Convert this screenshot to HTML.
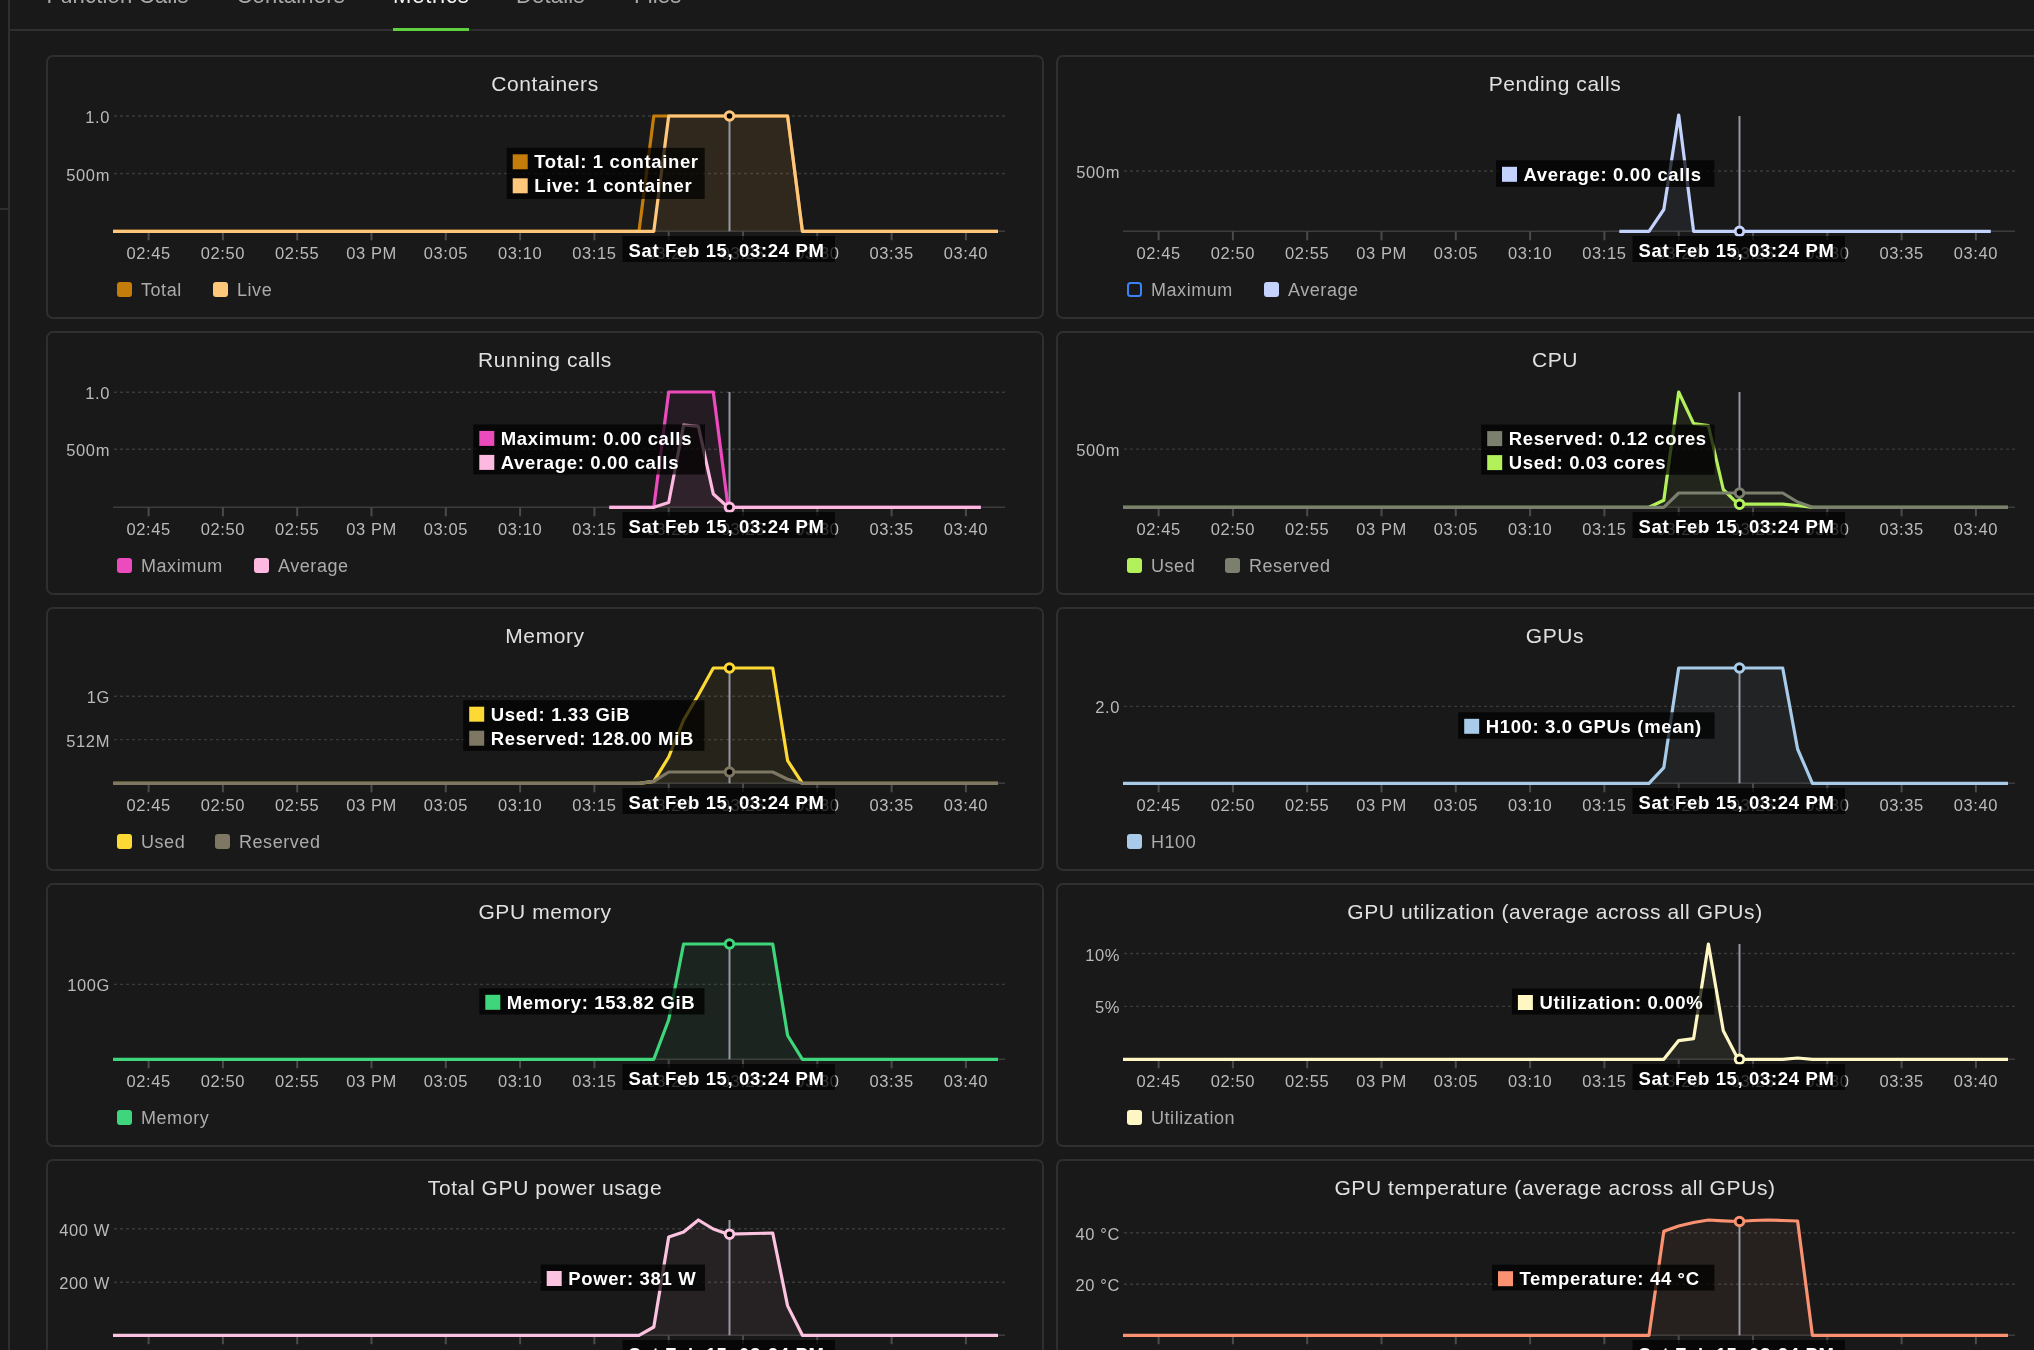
<!DOCTYPE html>
<html><head><meta charset="utf-8"><title>Metrics</title>
<style>
html,body{margin:0;padding:0;background:#191919;width:2034px;height:1350px;overflow:hidden;}
body{position:relative;font-family:"Liberation Sans", sans-serif;}
.card{position:absolute;box-sizing:border-box;width:998px;height:264px;border:2px solid #2f2f2f;border-radius:7px;background:#191919;}
svg{position:absolute;left:0;top:0;will-change:transform;}
svg text{font-family:"Liberation Sans", sans-serif;}
.title{font-size:21px;fill:#e0e0e0;letter-spacing:0.6px;}
.ylab{font-size:16.5px;fill:#bababa;letter-spacing:0.6px;}
.xlab{font-size:16.5px;fill:#bababa;letter-spacing:0.6px;}
.leg{font-size:18px;fill:#ababab;letter-spacing:0.55px;}
.tt{font-size:18.5px;font-weight:bold;fill:#fff;letter-spacing:0.65px;}
.grid{stroke:#3a3a3a;stroke-width:1.4;stroke-dasharray:3 3;}
.axis{stroke:#3c3c3c;stroke-width:1.4;}
.tick{stroke:#4a4a4a;stroke-width:2;}
.cross{stroke:#9597a3;stroke-width:2;}
.tab{font-size:22px;fill:#a9a9a9;letter-spacing:0.2px;}
</style></head><body>
<div style="position:absolute;left:0;top:0;width:8px;height:1350px;background:#171717"></div>
<div style="position:absolute;left:8px;top:0;width:2px;height:1350px;background:#2f2f2f"></div>
<div style="position:absolute;left:0;top:208px;width:8px;height:2px;background:#2f2f2f"></div>
<div style="position:absolute;left:10px;top:29px;width:2024px;height:2px;background:#2f2f2f"></div>
<div style="position:absolute;left:393px;top:28px;width:76px;height:3px;background:#5fd13f"></div>
<div class="card" style="left:46px;top:55px"></div>
<div class="card" style="left:1056px;top:55px"></div>
<div class="card" style="left:46px;top:331px"></div>
<div class="card" style="left:1056px;top:331px"></div>
<div class="card" style="left:46px;top:607px"></div>
<div class="card" style="left:1056px;top:607px"></div>
<div class="card" style="left:46px;top:883px"></div>
<div class="card" style="left:1056px;top:883px"></div>
<div class="card" style="left:46px;top:1159px"></div>
<div class="card" style="left:1056px;top:1159px"></div>
<svg width="2034" height="1350" viewBox="0 0 2034 1350">
<text x="46.5" y="3" class="tab">Function Calls</text>
<text x="236.5" y="3" class="tab">Containers</text>
<text x="393" y="3" class="tab" style="fill:#f2f2f2;letter-spacing:0.8px">Metrics</text>
<text x="516" y="3" class="tab">Details</text>
<text x="634" y="3" class="tab">Files</text>
<g transform="translate(46,55)">
<text x="499" y="36" class="title" text-anchor="middle">Containers</text>
<line x1="68" x2="959" y1="61" y2="61" class="grid"/>
<text x="64" y="68" class="ylab" text-anchor="end">1.0</text>
<line x1="68" x2="959" y1="118.5" y2="118.5" class="grid"/>
<text x="64" y="125.5" class="ylab" text-anchor="end">500m</text>
<line x1="67" x2="959" y1="176.3" y2="176.3" class="axis"/>
<line x1="102.6" x2="102.6" y1="176.3" y2="185.3" class="tick"/>
<text x="102.6" y="204" class="xlab" text-anchor="middle">02:45</text>
<line x1="176.9" x2="176.9" y1="176.3" y2="185.3" class="tick"/>
<text x="176.9" y="204" class="xlab" text-anchor="middle">02:50</text>
<line x1="251.2" x2="251.2" y1="176.3" y2="185.3" class="tick"/>
<text x="251.2" y="204" class="xlab" text-anchor="middle">02:55</text>
<line x1="325.5" x2="325.5" y1="176.3" y2="185.3" class="tick"/>
<text x="325.5" y="204" class="xlab" text-anchor="middle">03 PM</text>
<line x1="399.8" x2="399.8" y1="176.3" y2="185.3" class="tick"/>
<text x="399.8" y="204" class="xlab" text-anchor="middle">03:05</text>
<line x1="474.1" x2="474.1" y1="176.3" y2="185.3" class="tick"/>
<text x="474.1" y="204" class="xlab" text-anchor="middle">03:10</text>
<line x1="548.4" x2="548.4" y1="176.3" y2="185.3" class="tick"/>
<text x="548.4" y="204" class="xlab" text-anchor="middle">03:15</text>
<line x1="622.7" x2="622.7" y1="176.3" y2="185.3" class="tick"/>
<text x="622.7" y="204" class="xlab" text-anchor="middle">03:20</text>
<line x1="697.0" x2="697.0" y1="176.3" y2="185.3" class="tick"/>
<text x="697.0" y="204" class="xlab" text-anchor="middle">03:25</text>
<line x1="771.3" x2="771.3" y1="176.3" y2="185.3" class="tick"/>
<text x="771.3" y="204" class="xlab" text-anchor="middle">03:30</text>
<line x1="845.6" x2="845.6" y1="176.3" y2="185.3" class="tick"/>
<text x="845.6" y="204" class="xlab" text-anchor="middle">03:35</text>
<line x1="919.9" x2="919.9" y1="176.3" y2="185.3" class="tick"/>
<text x="919.9" y="204" class="xlab" text-anchor="middle">03:40</text>
<polygon points="67.0,176.3 67.0,176.3 593.0,176.3 607.8,61.0 741.6,61.0 756.4,176.3 952.0,176.3 952.0,176.3" fill="#c47c0b" fill-opacity="0.06" stroke="none"/>
<polygon points="67.0,176.3 67.0,176.3 607.8,176.3 622.7,61.0 741.6,61.0 756.4,176.3 952.0,176.3 952.0,176.3" fill="#fec77c" fill-opacity="0.06" stroke="none"/>
<line x1="683.5" x2="683.5" y1="61.0" y2="176.3" class="cross"/>
<polyline points="67.0,176.3 593.0,176.3 607.8,61.0 741.6,61.0 756.4,176.3 952.0,176.3" fill="none" stroke="#c47c0b" stroke-width="3.2" stroke-linejoin="round" stroke-linecap="butt"/>
<polyline points="67.0,176.3 607.8,176.3 622.7,61.0 741.6,61.0 756.4,176.3 952.0,176.3" fill="none" stroke="#fec77c" stroke-width="3.2" stroke-linejoin="round" stroke-linecap="butt"/>
<circle cx="683.5" cy="61.0" r="4.3" fill="#000" stroke="#fec77c" stroke-width="3"/>
<rect x="460.7" y="92.80000000000001" width="198" height="51.2" fill="#000" fill-opacity="0.72"/>
<rect x="466.7" y="99.30000000000001" width="15" height="15" fill="#c47c0b"/>
<text x="488.2" y="113.30000000000001" class="tt">Total: 1 container</text>
<rect x="466.7" y="123.30000000000001" width="15" height="15" fill="#fec77c"/>
<text x="488.2" y="137.3" class="tt">Live: 1 container</text>
<rect x="576.5" y="181" width="212.5" height="26" fill="#000" fill-opacity="0.72"/>
<text x="582.5" y="201.5" class="tt">Sat Feb 15, 03:24 PM</text>
<rect x="71" y="227" width="15" height="15" rx="3" fill="#c47c0b"/>
<text x="95" y="241" class="leg">Total</text>
<rect x="167" y="227" width="15" height="15" rx="3" fill="#fec77c"/>
<text x="191" y="241" class="leg">Live</text>
</g>
<g transform="translate(1056,55)">
<text x="499" y="36" class="title" text-anchor="middle">Pending calls</text>
<line x1="68" x2="959" y1="116" y2="116" class="grid"/>
<text x="64" y="123" class="ylab" text-anchor="end">500m</text>
<line x1="67" x2="959" y1="176.3" y2="176.3" class="axis"/>
<line x1="102.6" x2="102.6" y1="176.3" y2="185.3" class="tick"/>
<text x="102.6" y="204" class="xlab" text-anchor="middle">02:45</text>
<line x1="176.9" x2="176.9" y1="176.3" y2="185.3" class="tick"/>
<text x="176.9" y="204" class="xlab" text-anchor="middle">02:50</text>
<line x1="251.2" x2="251.2" y1="176.3" y2="185.3" class="tick"/>
<text x="251.2" y="204" class="xlab" text-anchor="middle">02:55</text>
<line x1="325.5" x2="325.5" y1="176.3" y2="185.3" class="tick"/>
<text x="325.5" y="204" class="xlab" text-anchor="middle">03 PM</text>
<line x1="399.8" x2="399.8" y1="176.3" y2="185.3" class="tick"/>
<text x="399.8" y="204" class="xlab" text-anchor="middle">03:05</text>
<line x1="474.1" x2="474.1" y1="176.3" y2="185.3" class="tick"/>
<text x="474.1" y="204" class="xlab" text-anchor="middle">03:10</text>
<line x1="548.4" x2="548.4" y1="176.3" y2="185.3" class="tick"/>
<text x="548.4" y="204" class="xlab" text-anchor="middle">03:15</text>
<line x1="622.7" x2="622.7" y1="176.3" y2="185.3" class="tick"/>
<text x="622.7" y="204" class="xlab" text-anchor="middle">03:20</text>
<line x1="697.0" x2="697.0" y1="176.3" y2="185.3" class="tick"/>
<text x="697.0" y="204" class="xlab" text-anchor="middle">03:25</text>
<line x1="771.3" x2="771.3" y1="176.3" y2="185.3" class="tick"/>
<text x="771.3" y="204" class="xlab" text-anchor="middle">03:30</text>
<line x1="845.6" x2="845.6" y1="176.3" y2="185.3" class="tick"/>
<text x="845.6" y="204" class="xlab" text-anchor="middle">03:35</text>
<line x1="919.9" x2="919.9" y1="176.3" y2="185.3" class="tick"/>
<text x="919.9" y="204" class="xlab" text-anchor="middle">03:40</text>
<polygon points="563.3,176.3 563.3,176.3 593.0,176.3 607.8,154.5 622.7,60.0 637.6,176.3 934.8,176.3 934.8,176.3" fill="#c3d3fe" fill-opacity="0.06" stroke="none"/>
<line x1="683.5" x2="683.5" y1="61.0" y2="176.3" class="cross"/>
<polyline points="563.3,176.3 593.0,176.3 607.8,154.5 622.7,60.0 637.6,176.3 934.8,176.3" fill="none" stroke="#c3d3fe" stroke-width="3.2" stroke-linejoin="round" stroke-linecap="butt"/>
<circle cx="683.5" cy="176.3" r="4.3" fill="#000" stroke="#c3d3fe" stroke-width="3"/>
<rect x="440" y="105.30000000000001" width="218.5" height="26.7" fill="#000" fill-opacity="0.72"/>
<rect x="446" y="111.80000000000001" width="15" height="15" fill="#c3d3fe"/>
<text x="467.5" y="125.80000000000001" class="tt">Average: 0.00 calls</text>
<rect x="576.5" y="181" width="212.5" height="26" fill="#000" fill-opacity="0.72"/>
<text x="582.5" y="201.5" class="tt">Sat Feb 15, 03:24 PM</text>
<rect x="72" y="228" width="13" height="13" rx="2.5" fill="none" stroke="#3b82f6" stroke-width="2"/>
<text x="95" y="241" class="leg">Maximum</text>
<rect x="208" y="227" width="15" height="15" rx="3" fill="#c3d3fe"/>
<text x="232" y="241" class="leg">Average</text>
</g>
<g transform="translate(46,331)">
<text x="499" y="36" class="title" text-anchor="middle">Running calls</text>
<line x1="68" x2="959" y1="61.3" y2="61.3" class="grid"/>
<text x="64" y="68.3" class="ylab" text-anchor="end">1.0</text>
<line x1="68" x2="959" y1="118.3" y2="118.3" class="grid"/>
<text x="64" y="125.3" class="ylab" text-anchor="end">500m</text>
<line x1="67" x2="959" y1="176.3" y2="176.3" class="axis"/>
<line x1="102.6" x2="102.6" y1="176.3" y2="185.3" class="tick"/>
<text x="102.6" y="204" class="xlab" text-anchor="middle">02:45</text>
<line x1="176.9" x2="176.9" y1="176.3" y2="185.3" class="tick"/>
<text x="176.9" y="204" class="xlab" text-anchor="middle">02:50</text>
<line x1="251.2" x2="251.2" y1="176.3" y2="185.3" class="tick"/>
<text x="251.2" y="204" class="xlab" text-anchor="middle">02:55</text>
<line x1="325.5" x2="325.5" y1="176.3" y2="185.3" class="tick"/>
<text x="325.5" y="204" class="xlab" text-anchor="middle">03 PM</text>
<line x1="399.8" x2="399.8" y1="176.3" y2="185.3" class="tick"/>
<text x="399.8" y="204" class="xlab" text-anchor="middle">03:05</text>
<line x1="474.1" x2="474.1" y1="176.3" y2="185.3" class="tick"/>
<text x="474.1" y="204" class="xlab" text-anchor="middle">03:10</text>
<line x1="548.4" x2="548.4" y1="176.3" y2="185.3" class="tick"/>
<text x="548.4" y="204" class="xlab" text-anchor="middle">03:15</text>
<line x1="622.7" x2="622.7" y1="176.3" y2="185.3" class="tick"/>
<text x="622.7" y="204" class="xlab" text-anchor="middle">03:20</text>
<line x1="697.0" x2="697.0" y1="176.3" y2="185.3" class="tick"/>
<text x="697.0" y="204" class="xlab" text-anchor="middle">03:25</text>
<line x1="771.3" x2="771.3" y1="176.3" y2="185.3" class="tick"/>
<text x="771.3" y="204" class="xlab" text-anchor="middle">03:30</text>
<line x1="845.6" x2="845.6" y1="176.3" y2="185.3" class="tick"/>
<text x="845.6" y="204" class="xlab" text-anchor="middle">03:35</text>
<line x1="919.9" x2="919.9" y1="176.3" y2="185.3" class="tick"/>
<text x="919.9" y="204" class="xlab" text-anchor="middle">03:40</text>
<polygon points="563.3,176.3 563.3,176.3 607.8,176.3 622.7,61.0 667.3,61.0 682.1,176.3 934.8,176.3 934.8,176.3" fill="#ec4bbd" fill-opacity="0.06" stroke="none"/>
<polygon points="563.3,176.3 563.3,176.3 607.8,176.3 622.7,171.5 637.6,94.0 652.4,95.3 667.3,163.0 682.1,176.3 934.8,176.3 934.8,176.3" fill="#fdb9e0" fill-opacity="0.05" stroke="none"/>
<line x1="683.5" x2="683.5" y1="61.0" y2="176.3" class="cross"/>
<polyline points="563.3,176.3 607.8,176.3 622.7,61.0 667.3,61.0 682.1,176.3 934.8,176.3" fill="none" stroke="#ec4bbd" stroke-width="3.2" stroke-linejoin="round" stroke-linecap="butt"/>
<polyline points="563.3,176.3 607.8,176.3 622.7,171.5 637.6,94.0 652.4,95.3 667.3,163.0 682.1,176.3 934.8,176.3" fill="none" stroke="#fdb9e0" stroke-width="3.2" stroke-linejoin="round" stroke-linecap="butt"/>
<circle cx="683.5" cy="176.3" r="4.3" fill="#000" stroke="#fdb9e0" stroke-width="3"/>
<rect x="427.3" y="93.39999999999998" width="231.7" height="50.1" fill="#000" fill-opacity="0.72"/>
<rect x="433.3" y="99.89999999999998" width="15" height="15" fill="#ec4bbd"/>
<text x="454.8" y="113.89999999999998" class="tt">Maximum: 0.00 calls</text>
<rect x="433.3" y="123.89999999999998" width="15" height="15" fill="#fdb9e0"/>
<text x="454.8" y="137.89999999999998" class="tt">Average: 0.00 calls</text>
<rect x="576.5" y="181" width="212.5" height="26" fill="#000" fill-opacity="0.72"/>
<text x="582.5" y="201.5" class="tt">Sat Feb 15, 03:24 PM</text>
<rect x="71" y="227" width="15" height="15" rx="3" fill="#ec4bbd"/>
<text x="95" y="241" class="leg">Maximum</text>
<rect x="208" y="227" width="15" height="15" rx="3" fill="#fdb9e0"/>
<text x="232" y="241" class="leg">Average</text>
</g>
<g transform="translate(1056,331)">
<text x="499" y="36" class="title" text-anchor="middle">CPU</text>
<line x1="68" x2="959" y1="118.1" y2="118.1" class="grid"/>
<text x="64" y="125.1" class="ylab" text-anchor="end">500m</text>
<line x1="67" x2="959" y1="176.3" y2="176.3" class="axis"/>
<line x1="102.6" x2="102.6" y1="176.3" y2="185.3" class="tick"/>
<text x="102.6" y="204" class="xlab" text-anchor="middle">02:45</text>
<line x1="176.9" x2="176.9" y1="176.3" y2="185.3" class="tick"/>
<text x="176.9" y="204" class="xlab" text-anchor="middle">02:50</text>
<line x1="251.2" x2="251.2" y1="176.3" y2="185.3" class="tick"/>
<text x="251.2" y="204" class="xlab" text-anchor="middle">02:55</text>
<line x1="325.5" x2="325.5" y1="176.3" y2="185.3" class="tick"/>
<text x="325.5" y="204" class="xlab" text-anchor="middle">03 PM</text>
<line x1="399.8" x2="399.8" y1="176.3" y2="185.3" class="tick"/>
<text x="399.8" y="204" class="xlab" text-anchor="middle">03:05</text>
<line x1="474.1" x2="474.1" y1="176.3" y2="185.3" class="tick"/>
<text x="474.1" y="204" class="xlab" text-anchor="middle">03:10</text>
<line x1="548.4" x2="548.4" y1="176.3" y2="185.3" class="tick"/>
<text x="548.4" y="204" class="xlab" text-anchor="middle">03:15</text>
<line x1="622.7" x2="622.7" y1="176.3" y2="185.3" class="tick"/>
<text x="622.7" y="204" class="xlab" text-anchor="middle">03:20</text>
<line x1="697.0" x2="697.0" y1="176.3" y2="185.3" class="tick"/>
<text x="697.0" y="204" class="xlab" text-anchor="middle">03:25</text>
<line x1="771.3" x2="771.3" y1="176.3" y2="185.3" class="tick"/>
<text x="771.3" y="204" class="xlab" text-anchor="middle">03:30</text>
<line x1="845.6" x2="845.6" y1="176.3" y2="185.3" class="tick"/>
<text x="845.6" y="204" class="xlab" text-anchor="middle">03:35</text>
<line x1="919.9" x2="919.9" y1="176.3" y2="185.3" class="tick"/>
<text x="919.9" y="204" class="xlab" text-anchor="middle">03:40</text>
<polygon points="67.0,176.3 67.0,176.3 593.0,176.3 607.8,169.3 622.7,61.0 637.6,92.6 652.4,94.5 667.3,158.5 682.1,173.2 726.7,173.2 741.6,174.5 756.4,176.3 952.0,176.3 952.0,176.3" fill="#b3f15b" fill-opacity="0.06" stroke="none"/>
<polygon points="67.0,176.3 67.0,176.3 607.8,176.3 622.7,162.0 726.7,162.0 741.6,171.0 756.4,176.3 952.0,176.3 952.0,176.3" fill="#7b7f6d" fill-opacity="0.06" stroke="none"/>
<line x1="683.5" x2="683.5" y1="61.0" y2="176.3" class="cross"/>
<polyline points="67.0,176.3 593.0,176.3 607.8,169.3 622.7,61.0 637.6,92.6 652.4,94.5 667.3,158.5 682.1,173.2 726.7,173.2 741.6,174.5 756.4,176.3 952.0,176.3" fill="none" stroke="#b3f15b" stroke-width="3.2" stroke-linejoin="round" stroke-linecap="butt"/>
<polyline points="67.0,176.3 607.8,176.3 622.7,162.0 726.7,162.0 741.6,171.0 756.4,176.3 952.0,176.3" fill="none" stroke="#7b7f6d" stroke-width="3.2" stroke-linejoin="round" stroke-linecap="butt"/>
<circle cx="683.5" cy="162" r="4.3" fill="#000" stroke="#7b7f6d" stroke-width="3"/>
<circle cx="683.5" cy="173.2" r="4.3" fill="#000" stroke="#b3f15b" stroke-width="3"/>
<rect x="425.20000000000005" y="93.60000000000002" width="233.5" height="50.1" fill="#000" fill-opacity="0.72"/>
<rect x="431.20000000000005" y="100.10000000000002" width="15" height="15" fill="#7b7f6d"/>
<text x="452.70000000000005" y="114.10000000000002" class="tt">Reserved: 0.12 cores</text>
<rect x="431.20000000000005" y="124.10000000000002" width="15" height="15" fill="#b3f15b"/>
<text x="452.70000000000005" y="138.10000000000002" class="tt">Used: 0.03 cores</text>
<rect x="576.5" y="181" width="212.5" height="26" fill="#000" fill-opacity="0.72"/>
<text x="582.5" y="201.5" class="tt">Sat Feb 15, 03:24 PM</text>
<rect x="71" y="227" width="15" height="15" rx="3" fill="#b3f15b"/>
<text x="95" y="241" class="leg">Used</text>
<rect x="169" y="227" width="15" height="15" rx="3" fill="#7b7f6d"/>
<text x="193" y="241" class="leg">Reserved</text>
</g>
<g transform="translate(46,607)">
<text x="499" y="36" class="title" text-anchor="middle">Memory</text>
<line x1="68" x2="959" y1="89.3" y2="89.3" class="grid"/>
<text x="64" y="96.3" class="ylab" text-anchor="end">1G</text>
<line x1="68" x2="959" y1="132.6" y2="132.6" class="grid"/>
<text x="64" y="139.6" class="ylab" text-anchor="end">512M</text>
<line x1="67" x2="959" y1="176.3" y2="176.3" class="axis"/>
<line x1="102.6" x2="102.6" y1="176.3" y2="185.3" class="tick"/>
<text x="102.6" y="204" class="xlab" text-anchor="middle">02:45</text>
<line x1="176.9" x2="176.9" y1="176.3" y2="185.3" class="tick"/>
<text x="176.9" y="204" class="xlab" text-anchor="middle">02:50</text>
<line x1="251.2" x2="251.2" y1="176.3" y2="185.3" class="tick"/>
<text x="251.2" y="204" class="xlab" text-anchor="middle">02:55</text>
<line x1="325.5" x2="325.5" y1="176.3" y2="185.3" class="tick"/>
<text x="325.5" y="204" class="xlab" text-anchor="middle">03 PM</text>
<line x1="399.8" x2="399.8" y1="176.3" y2="185.3" class="tick"/>
<text x="399.8" y="204" class="xlab" text-anchor="middle">03:05</text>
<line x1="474.1" x2="474.1" y1="176.3" y2="185.3" class="tick"/>
<text x="474.1" y="204" class="xlab" text-anchor="middle">03:10</text>
<line x1="548.4" x2="548.4" y1="176.3" y2="185.3" class="tick"/>
<text x="548.4" y="204" class="xlab" text-anchor="middle">03:15</text>
<line x1="622.7" x2="622.7" y1="176.3" y2="185.3" class="tick"/>
<text x="622.7" y="204" class="xlab" text-anchor="middle">03:20</text>
<line x1="697.0" x2="697.0" y1="176.3" y2="185.3" class="tick"/>
<text x="697.0" y="204" class="xlab" text-anchor="middle">03:25</text>
<line x1="771.3" x2="771.3" y1="176.3" y2="185.3" class="tick"/>
<text x="771.3" y="204" class="xlab" text-anchor="middle">03:30</text>
<line x1="845.6" x2="845.6" y1="176.3" y2="185.3" class="tick"/>
<text x="845.6" y="204" class="xlab" text-anchor="middle">03:35</text>
<line x1="919.9" x2="919.9" y1="176.3" y2="185.3" class="tick"/>
<text x="919.9" y="204" class="xlab" text-anchor="middle">03:40</text>
<polygon points="67.0,176.3 67.0,176.3 593.0,176.3 607.8,174.3 622.7,150.0 637.6,113.0 652.4,88.0 667.3,61.0 726.7,61.0 741.6,153.6 756.4,176.3 952.0,176.3 952.0,176.3" fill="#fdd936" fill-opacity="0.06" stroke="none"/>
<polygon points="67.0,176.3 67.0,176.3 593.0,176.3 607.8,174.3 622.7,165.0 726.7,165.0 741.6,172.3 756.4,176.3 952.0,176.3 952.0,176.3" fill="#7d7763" fill-opacity="0.06" stroke="none"/>
<line x1="683.5" x2="683.5" y1="61.0" y2="176.3" class="cross"/>
<polyline points="67.0,176.3 593.0,176.3 607.8,174.3 622.7,150.0 637.6,113.0 652.4,88.0 667.3,61.0 726.7,61.0 741.6,153.6 756.4,176.3 952.0,176.3" fill="none" stroke="#fdd936" stroke-width="3.2" stroke-linejoin="round" stroke-linecap="butt"/>
<polyline points="67.0,176.3 593.0,176.3 607.8,174.3 622.7,165.0 726.7,165.0 741.6,172.3 756.4,176.3 952.0,176.3" fill="none" stroke="#7d7763" stroke-width="3.2" stroke-linejoin="round" stroke-linecap="butt"/>
<circle cx="683.5" cy="61.0" r="4.3" fill="#000" stroke="#fdd936" stroke-width="3"/>
<circle cx="683.5" cy="165" r="4.3" fill="#000" stroke="#7d7763" stroke-width="3"/>
<rect x="417.2" y="93.20000000000005" width="241.3" height="50.6" fill="#000" fill-opacity="0.72"/>
<rect x="423.2" y="99.70000000000005" width="15" height="15" fill="#fdd936"/>
<text x="444.7" y="113.70000000000005" class="tt">Used: 1.33 GiB</text>
<rect x="423.2" y="123.70000000000005" width="15" height="15" fill="#7d7763"/>
<text x="444.7" y="137.70000000000005" class="tt">Reserved: 128.00 MiB</text>
<rect x="576.5" y="181" width="212.5" height="26" fill="#000" fill-opacity="0.72"/>
<text x="582.5" y="201.5" class="tt">Sat Feb 15, 03:24 PM</text>
<rect x="71" y="227" width="15" height="15" rx="3" fill="#fdd936"/>
<text x="95" y="241" class="leg">Used</text>
<rect x="169" y="227" width="15" height="15" rx="3" fill="#7d7763"/>
<text x="193" y="241" class="leg">Reserved</text>
</g>
<g transform="translate(1056,607)">
<text x="499" y="36" class="title" text-anchor="middle">GPUs</text>
<line x1="68" x2="959" y1="99.4" y2="99.4" class="grid"/>
<text x="64" y="106.4" class="ylab" text-anchor="end">2.0</text>
<line x1="67" x2="959" y1="176.3" y2="176.3" class="axis"/>
<line x1="102.6" x2="102.6" y1="176.3" y2="185.3" class="tick"/>
<text x="102.6" y="204" class="xlab" text-anchor="middle">02:45</text>
<line x1="176.9" x2="176.9" y1="176.3" y2="185.3" class="tick"/>
<text x="176.9" y="204" class="xlab" text-anchor="middle">02:50</text>
<line x1="251.2" x2="251.2" y1="176.3" y2="185.3" class="tick"/>
<text x="251.2" y="204" class="xlab" text-anchor="middle">02:55</text>
<line x1="325.5" x2="325.5" y1="176.3" y2="185.3" class="tick"/>
<text x="325.5" y="204" class="xlab" text-anchor="middle">03 PM</text>
<line x1="399.8" x2="399.8" y1="176.3" y2="185.3" class="tick"/>
<text x="399.8" y="204" class="xlab" text-anchor="middle">03:05</text>
<line x1="474.1" x2="474.1" y1="176.3" y2="185.3" class="tick"/>
<text x="474.1" y="204" class="xlab" text-anchor="middle">03:10</text>
<line x1="548.4" x2="548.4" y1="176.3" y2="185.3" class="tick"/>
<text x="548.4" y="204" class="xlab" text-anchor="middle">03:15</text>
<line x1="622.7" x2="622.7" y1="176.3" y2="185.3" class="tick"/>
<text x="622.7" y="204" class="xlab" text-anchor="middle">03:20</text>
<line x1="697.0" x2="697.0" y1="176.3" y2="185.3" class="tick"/>
<text x="697.0" y="204" class="xlab" text-anchor="middle">03:25</text>
<line x1="771.3" x2="771.3" y1="176.3" y2="185.3" class="tick"/>
<text x="771.3" y="204" class="xlab" text-anchor="middle">03:30</text>
<line x1="845.6" x2="845.6" y1="176.3" y2="185.3" class="tick"/>
<text x="845.6" y="204" class="xlab" text-anchor="middle">03:35</text>
<line x1="919.9" x2="919.9" y1="176.3" y2="185.3" class="tick"/>
<text x="919.9" y="204" class="xlab" text-anchor="middle">03:40</text>
<polygon points="67.0,176.3 67.0,176.3 593.0,176.3 607.8,160.6 622.7,61.0 726.7,61.0 741.6,142.0 756.4,176.3 952.0,176.3 952.0,176.3" fill="#a7cbe8" fill-opacity="0.06" stroke="none"/>
<line x1="683.5" x2="683.5" y1="61.0" y2="176.3" class="cross"/>
<polyline points="67.0,176.3 593.0,176.3 607.8,160.6 622.7,61.0 726.7,61.0 741.6,142.0 756.4,176.3 952.0,176.3" fill="none" stroke="#a7cbe8" stroke-width="3.2" stroke-linejoin="round" stroke-linecap="butt"/>
<circle cx="683.5" cy="61.0" r="4.3" fill="#000" stroke="#a7cbe8" stroke-width="3"/>
<rect x="402.20000000000005" y="105.29999999999995" width="256.4" height="26.4" fill="#000" fill-opacity="0.72"/>
<rect x="408.20000000000005" y="111.79999999999995" width="15" height="15" fill="#a7cbe8"/>
<text x="429.70000000000005" y="125.79999999999995" class="tt">H100: 3.0 GPUs (mean)</text>
<rect x="576.5" y="181" width="212.5" height="26" fill="#000" fill-opacity="0.72"/>
<text x="582.5" y="201.5" class="tt">Sat Feb 15, 03:24 PM</text>
<rect x="71" y="227" width="15" height="15" rx="3" fill="#a7cbe8"/>
<text x="95" y="241" class="leg">H100</text>
</g>
<g transform="translate(46,883)">
<text x="499" y="36" class="title" text-anchor="middle">GPU memory</text>
<line x1="68" x2="959" y1="101.4" y2="101.4" class="grid"/>
<text x="64" y="108.4" class="ylab" text-anchor="end">100G</text>
<line x1="67" x2="959" y1="176.3" y2="176.3" class="axis"/>
<line x1="102.6" x2="102.6" y1="176.3" y2="185.3" class="tick"/>
<text x="102.6" y="204" class="xlab" text-anchor="middle">02:45</text>
<line x1="176.9" x2="176.9" y1="176.3" y2="185.3" class="tick"/>
<text x="176.9" y="204" class="xlab" text-anchor="middle">02:50</text>
<line x1="251.2" x2="251.2" y1="176.3" y2="185.3" class="tick"/>
<text x="251.2" y="204" class="xlab" text-anchor="middle">02:55</text>
<line x1="325.5" x2="325.5" y1="176.3" y2="185.3" class="tick"/>
<text x="325.5" y="204" class="xlab" text-anchor="middle">03 PM</text>
<line x1="399.8" x2="399.8" y1="176.3" y2="185.3" class="tick"/>
<text x="399.8" y="204" class="xlab" text-anchor="middle">03:05</text>
<line x1="474.1" x2="474.1" y1="176.3" y2="185.3" class="tick"/>
<text x="474.1" y="204" class="xlab" text-anchor="middle">03:10</text>
<line x1="548.4" x2="548.4" y1="176.3" y2="185.3" class="tick"/>
<text x="548.4" y="204" class="xlab" text-anchor="middle">03:15</text>
<line x1="622.7" x2="622.7" y1="176.3" y2="185.3" class="tick"/>
<text x="622.7" y="204" class="xlab" text-anchor="middle">03:20</text>
<line x1="697.0" x2="697.0" y1="176.3" y2="185.3" class="tick"/>
<text x="697.0" y="204" class="xlab" text-anchor="middle">03:25</text>
<line x1="771.3" x2="771.3" y1="176.3" y2="185.3" class="tick"/>
<text x="771.3" y="204" class="xlab" text-anchor="middle">03:30</text>
<line x1="845.6" x2="845.6" y1="176.3" y2="185.3" class="tick"/>
<text x="845.6" y="204" class="xlab" text-anchor="middle">03:35</text>
<line x1="919.9" x2="919.9" y1="176.3" y2="185.3" class="tick"/>
<text x="919.9" y="204" class="xlab" text-anchor="middle">03:40</text>
<polygon points="67.0,176.3 67.0,176.3 607.8,176.3 622.7,136.8 637.6,61.0 726.7,61.0 741.6,152.5 756.4,176.3 952.0,176.3 952.0,176.3" fill="#3fd67b" fill-opacity="0.06" stroke="none"/>
<line x1="683.5" x2="683.5" y1="61.0" y2="176.3" class="cross"/>
<polyline points="67.0,176.3 607.8,176.3 622.7,136.8 637.6,61.0 726.7,61.0 741.6,152.5 756.4,176.3 952.0,176.3" fill="none" stroke="#3fd67b" stroke-width="3.2" stroke-linejoin="round" stroke-linecap="butt"/>
<circle cx="683.5" cy="61.0" r="4.3" fill="#000" stroke="#3fd67b" stroke-width="3"/>
<rect x="433.3" y="105.29999999999995" width="225.2" height="26.2" fill="#000" fill-opacity="0.72"/>
<rect x="439.3" y="111.79999999999995" width="15" height="15" fill="#3fd67b"/>
<text x="460.8" y="125.79999999999995" class="tt">Memory: 153.82 GiB</text>
<rect x="576.5" y="181" width="212.5" height="26" fill="#000" fill-opacity="0.72"/>
<text x="582.5" y="201.5" class="tt">Sat Feb 15, 03:24 PM</text>
<rect x="71" y="227" width="15" height="15" rx="3" fill="#3fd67b"/>
<text x="95" y="241" class="leg">Memory</text>
</g>
<g transform="translate(1056,883)">
<text x="499" y="36" class="title" text-anchor="middle">GPU utilization (average across all GPUs)</text>
<line x1="68" x2="959" y1="70.5" y2="70.5" class="grid"/>
<text x="64" y="77.5" class="ylab" text-anchor="end">10%</text>
<line x1="68" x2="959" y1="123.4" y2="123.4" class="grid"/>
<text x="64" y="130.4" class="ylab" text-anchor="end">5%</text>
<line x1="67" x2="959" y1="176.3" y2="176.3" class="axis"/>
<line x1="102.6" x2="102.6" y1="176.3" y2="185.3" class="tick"/>
<text x="102.6" y="204" class="xlab" text-anchor="middle">02:45</text>
<line x1="176.9" x2="176.9" y1="176.3" y2="185.3" class="tick"/>
<text x="176.9" y="204" class="xlab" text-anchor="middle">02:50</text>
<line x1="251.2" x2="251.2" y1="176.3" y2="185.3" class="tick"/>
<text x="251.2" y="204" class="xlab" text-anchor="middle">02:55</text>
<line x1="325.5" x2="325.5" y1="176.3" y2="185.3" class="tick"/>
<text x="325.5" y="204" class="xlab" text-anchor="middle">03 PM</text>
<line x1="399.8" x2="399.8" y1="176.3" y2="185.3" class="tick"/>
<text x="399.8" y="204" class="xlab" text-anchor="middle">03:05</text>
<line x1="474.1" x2="474.1" y1="176.3" y2="185.3" class="tick"/>
<text x="474.1" y="204" class="xlab" text-anchor="middle">03:10</text>
<line x1="548.4" x2="548.4" y1="176.3" y2="185.3" class="tick"/>
<text x="548.4" y="204" class="xlab" text-anchor="middle">03:15</text>
<line x1="622.7" x2="622.7" y1="176.3" y2="185.3" class="tick"/>
<text x="622.7" y="204" class="xlab" text-anchor="middle">03:20</text>
<line x1="697.0" x2="697.0" y1="176.3" y2="185.3" class="tick"/>
<text x="697.0" y="204" class="xlab" text-anchor="middle">03:25</text>
<line x1="771.3" x2="771.3" y1="176.3" y2="185.3" class="tick"/>
<text x="771.3" y="204" class="xlab" text-anchor="middle">03:30</text>
<line x1="845.6" x2="845.6" y1="176.3" y2="185.3" class="tick"/>
<text x="845.6" y="204" class="xlab" text-anchor="middle">03:35</text>
<line x1="919.9" x2="919.9" y1="176.3" y2="185.3" class="tick"/>
<text x="919.9" y="204" class="xlab" text-anchor="middle">03:40</text>
<polygon points="67.0,176.3 67.0,176.3 607.8,176.3 622.7,157.6 637.6,155.6 652.4,61.0 667.3,147.8 682.1,176.3 726.7,176.3 741.6,175.0 756.4,176.3 952.0,176.3 952.0,176.3" fill="#fef7c3" fill-opacity="0.06" stroke="none"/>
<line x1="683.5" x2="683.5" y1="61.0" y2="176.3" class="cross"/>
<polyline points="67.0,176.3 607.8,176.3 622.7,157.6 637.6,155.6 652.4,61.0 667.3,147.8 682.1,176.3 726.7,176.3 741.6,175.0 756.4,176.3 952.0,176.3" fill="none" stroke="#fef7c3" stroke-width="3.2" stroke-linejoin="round" stroke-linecap="butt"/>
<circle cx="683.5" cy="176.3" r="4.3" fill="#000" stroke="#fef7c3" stroke-width="3"/>
<rect x="455.9000000000001" y="105.5" width="202.5" height="26.1" fill="#000" fill-opacity="0.72"/>
<rect x="461.9000000000001" y="112.0" width="15" height="15" fill="#fef7c3"/>
<text x="483.4000000000001" y="126.0" class="tt">Utilization: 0.00%</text>
<rect x="576.5" y="181" width="212.5" height="26" fill="#000" fill-opacity="0.72"/>
<text x="582.5" y="201.5" class="tt">Sat Feb 15, 03:24 PM</text>
<rect x="71" y="227" width="15" height="15" rx="3" fill="#fef7c3"/>
<text x="95" y="241" class="leg">Utilization</text>
</g>
<g transform="translate(46,1159)">
<text x="499" y="36" class="title" text-anchor="middle">Total GPU power usage</text>
<line x1="68" x2="959" y1="69.7" y2="69.7" class="grid"/>
<text x="64" y="76.7" class="ylab" text-anchor="end">400 W</text>
<line x1="68" x2="959" y1="123.2" y2="123.2" class="grid"/>
<text x="64" y="130.2" class="ylab" text-anchor="end">200 W</text>
<line x1="67" x2="959" y1="176.3" y2="176.3" class="axis"/>
<line x1="102.6" x2="102.6" y1="176.3" y2="185.3" class="tick"/>
<text x="102.6" y="204" class="xlab" text-anchor="middle">02:45</text>
<line x1="176.9" x2="176.9" y1="176.3" y2="185.3" class="tick"/>
<text x="176.9" y="204" class="xlab" text-anchor="middle">02:50</text>
<line x1="251.2" x2="251.2" y1="176.3" y2="185.3" class="tick"/>
<text x="251.2" y="204" class="xlab" text-anchor="middle">02:55</text>
<line x1="325.5" x2="325.5" y1="176.3" y2="185.3" class="tick"/>
<text x="325.5" y="204" class="xlab" text-anchor="middle">03 PM</text>
<line x1="399.8" x2="399.8" y1="176.3" y2="185.3" class="tick"/>
<text x="399.8" y="204" class="xlab" text-anchor="middle">03:05</text>
<line x1="474.1" x2="474.1" y1="176.3" y2="185.3" class="tick"/>
<text x="474.1" y="204" class="xlab" text-anchor="middle">03:10</text>
<line x1="548.4" x2="548.4" y1="176.3" y2="185.3" class="tick"/>
<text x="548.4" y="204" class="xlab" text-anchor="middle">03:15</text>
<line x1="622.7" x2="622.7" y1="176.3" y2="185.3" class="tick"/>
<text x="622.7" y="204" class="xlab" text-anchor="middle">03:20</text>
<line x1="697.0" x2="697.0" y1="176.3" y2="185.3" class="tick"/>
<text x="697.0" y="204" class="xlab" text-anchor="middle">03:25</text>
<line x1="771.3" x2="771.3" y1="176.3" y2="185.3" class="tick"/>
<text x="771.3" y="204" class="xlab" text-anchor="middle">03:30</text>
<line x1="845.6" x2="845.6" y1="176.3" y2="185.3" class="tick"/>
<text x="845.6" y="204" class="xlab" text-anchor="middle">03:35</text>
<line x1="919.9" x2="919.9" y1="176.3" y2="185.3" class="tick"/>
<text x="919.9" y="204" class="xlab" text-anchor="middle">03:40</text>
<polygon points="67.0,176.3 67.0,176.3 593.0,176.3 607.8,168.0 622.7,77.9 637.6,72.9 652.4,61.0 667.3,70.0 682.1,75.2 726.7,74.0 741.6,146.9 756.4,176.3 952.0,176.3 952.0,176.3" fill="#fcc3e0" fill-opacity="0.06" stroke="none"/>
<line x1="683.5" x2="683.5" y1="61.0" y2="176.3" class="cross"/>
<polyline points="67.0,176.3 593.0,176.3 607.8,168.0 622.7,77.9 637.6,72.9 652.4,61.0 667.3,70.0 682.1,75.2 726.7,74.0 741.6,146.9 756.4,176.3 952.0,176.3" fill="none" stroke="#fcc3e0" stroke-width="3.2" stroke-linejoin="round" stroke-linecap="butt"/>
<circle cx="683.5" cy="75.2" r="4.3" fill="#000" stroke="#fcc3e0" stroke-width="3"/>
<rect x="494.70000000000005" y="105.5" width="164.3" height="26.3" fill="#000" fill-opacity="0.72"/>
<rect x="500.70000000000005" y="112.0" width="15" height="15" fill="#fcc3e0"/>
<text x="522.2" y="126.0" class="tt">Power: 381 W</text>
<rect x="576.5" y="181" width="212.5" height="26" fill="#000" fill-opacity="0.72"/>
<text x="582.5" y="201.5" class="tt">Sat Feb 15, 03:24 PM</text>
<rect x="71" y="227" width="15" height="15" rx="3" fill="#fcc3e0"/>
<text x="95" y="241" class="leg">Power</text>
</g>
<g transform="translate(1056,1159)">
<text x="499" y="36" class="title" text-anchor="middle">GPU temperature (average across all GPUs)</text>
<line x1="68" x2="959" y1="73.8" y2="73.8" class="grid"/>
<text x="64" y="80.8" class="ylab" text-anchor="end">40 °C</text>
<line x1="68" x2="959" y1="125.3" y2="125.3" class="grid"/>
<text x="64" y="132.3" class="ylab" text-anchor="end">20 °C</text>
<line x1="67" x2="959" y1="176.3" y2="176.3" class="axis"/>
<line x1="102.6" x2="102.6" y1="176.3" y2="185.3" class="tick"/>
<text x="102.6" y="204" class="xlab" text-anchor="middle">02:45</text>
<line x1="176.9" x2="176.9" y1="176.3" y2="185.3" class="tick"/>
<text x="176.9" y="204" class="xlab" text-anchor="middle">02:50</text>
<line x1="251.2" x2="251.2" y1="176.3" y2="185.3" class="tick"/>
<text x="251.2" y="204" class="xlab" text-anchor="middle">02:55</text>
<line x1="325.5" x2="325.5" y1="176.3" y2="185.3" class="tick"/>
<text x="325.5" y="204" class="xlab" text-anchor="middle">03 PM</text>
<line x1="399.8" x2="399.8" y1="176.3" y2="185.3" class="tick"/>
<text x="399.8" y="204" class="xlab" text-anchor="middle">03:05</text>
<line x1="474.1" x2="474.1" y1="176.3" y2="185.3" class="tick"/>
<text x="474.1" y="204" class="xlab" text-anchor="middle">03:10</text>
<line x1="548.4" x2="548.4" y1="176.3" y2="185.3" class="tick"/>
<text x="548.4" y="204" class="xlab" text-anchor="middle">03:15</text>
<line x1="622.7" x2="622.7" y1="176.3" y2="185.3" class="tick"/>
<text x="622.7" y="204" class="xlab" text-anchor="middle">03:20</text>
<line x1="697.0" x2="697.0" y1="176.3" y2="185.3" class="tick"/>
<text x="697.0" y="204" class="xlab" text-anchor="middle">03:25</text>
<line x1="771.3" x2="771.3" y1="176.3" y2="185.3" class="tick"/>
<text x="771.3" y="204" class="xlab" text-anchor="middle">03:30</text>
<line x1="845.6" x2="845.6" y1="176.3" y2="185.3" class="tick"/>
<text x="845.6" y="204" class="xlab" text-anchor="middle">03:35</text>
<line x1="919.9" x2="919.9" y1="176.3" y2="185.3" class="tick"/>
<text x="919.9" y="204" class="xlab" text-anchor="middle">03:40</text>
<polygon points="67.0,176.3 67.0,176.3 593.0,176.3 607.8,72.2 622.7,67.0 637.6,63.5 652.4,61.0 667.3,61.8 682.1,62.5 697.0,61.5 711.9,61.0 726.7,61.5 741.6,62.0 756.4,176.3 952.0,176.3 952.0,176.3" fill="#fa9170" fill-opacity="0.06" stroke="none"/>
<line x1="683.5" x2="683.5" y1="61.0" y2="176.3" class="cross"/>
<polyline points="67.0,176.3 593.0,176.3 607.8,72.2 622.7,67.0 637.6,63.5 652.4,61.0 667.3,61.8 682.1,62.5 697.0,61.5 711.9,61.0 726.7,61.5 741.6,62.0 756.4,176.3 952.0,176.3" fill="none" stroke="#fa9170" stroke-width="3.2" stroke-linejoin="round" stroke-linecap="butt"/>
<circle cx="683.5" cy="62.5" r="4.3" fill="#000" stroke="#fa9170" stroke-width="3"/>
<rect x="436" y="105.70000000000005" width="222.4" height="25.8" fill="#000" fill-opacity="0.72"/>
<rect x="442" y="112.20000000000005" width="15" height="15" fill="#fa9170"/>
<text x="463.5" y="126.20000000000005" class="tt">Temperature: 44 °C</text>
<rect x="576.5" y="181" width="212.5" height="26" fill="#000" fill-opacity="0.72"/>
<text x="582.5" y="201.5" class="tt">Sat Feb 15, 03:24 PM</text>
<rect x="71" y="227" width="15" height="15" rx="3" fill="#fa9170"/>
<text x="95" y="241" class="leg">Temperature</text>
</g>
</svg>
</body></html>
